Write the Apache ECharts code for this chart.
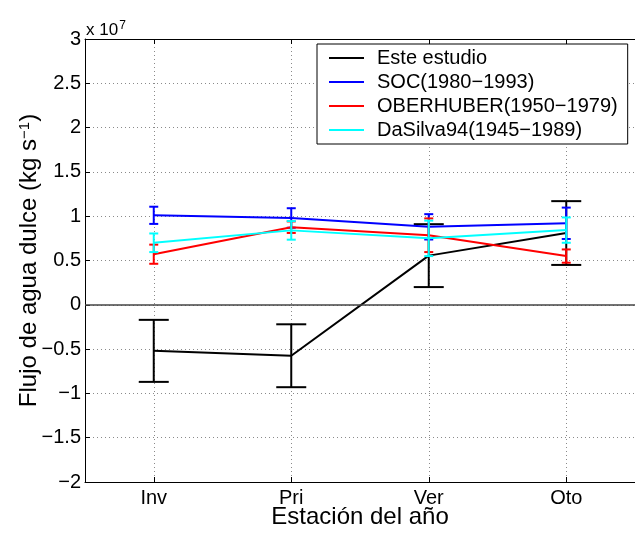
<!DOCTYPE html>
<html>
<head>
<meta charset="utf-8">
<script src="https://cdn.jsdelivr.net/npm/echarts@6/dist/echarts.min.js"></script>
<style>
  html, body { margin: 0; padding: 0; background: #fff; }
  #chart { width: 635px; height: 534px; }
</style>
</head>
<body>
<div id="chart"></div>
<script>
// Seasons on the x axis
const categories = ['Inv', 'Pri', 'Ver', 'Oto'];

// Freshwater flux, units of 1e7 kg/s: seasonal means and error half-widths
const esteMean = [-0.52, -0.575, 0.555, 0.81];
const esteErr = [0.35, 0.355, 0.355, 0.36];
const socMean = [1.01, 0.98, 0.88, 0.92];
const socErr = [0.097, 0.11, 0.143, 0.177];
const oberMean = [0.571, 0.876, 0.785, 0.55];
const oberErr = [0.108, 0.065, 0.19, 0.075];
const daSilvaMean = [0.70, 0.84, 0.75, 0.843];
const daSilvaErr = [0.105, 0.105, 0.2, 0.143];

// Y tick labels
const yTicks = [-2, -1.5, -1, -0.5, 0, 0.5, 1, 1.5, 2, 2.5, 3];

const FONT = '"Liberation Sans", Arial, Helvetica, sans-serif';
const catPos = categories.map((c, i) => i + 1);

function points(mean) {
  return mean.map((v, i) => [catPos[i], v]);
}
function bars(mean, err) {
  return mean.map((v, i) => [catPos[i], v - err[i], v + err[i]]);
}

function errorBars(color, capHalf) {
  return function (params, api) {
    const x = api.value(0);
    const lo = api.coord([x, api.value(1)]);
    const hi = api.coord([x, api.value(2)]);
    const st = { stroke: color, lineWidth: 2 };
    return {
      type: 'group',
      children: [
        { type: 'line', shape: { x1: lo[0], y1: lo[1], x2: hi[0], y2: hi[1] }, style: st },
        { type: 'line', shape: { x1: lo[0] - capHalf, y1: lo[1], x2: lo[0] + capHalf, y2: lo[1] }, style: st },
        { type: 'line', shape: { x1: hi[0] - capHalf, y1: hi[1], x2: hi[0] + capHalf, y2: hi[1] }, style: st }
      ]
    };
  };
}

const groups = [
  { name: 'Este estudio', color: '#000000', mean: esteMean, err: esteErr, cap: 15 },
  { name: 'SOC(1980\u22121993)', color: '#0000ff', mean: socMean, err: socErr, cap: 4.5 },
  { name: 'OBERHUBER(1950\u22121979)', color: '#ff0000', mean: oberMean, err: oberErr, cap: 4.5 },
  { name: 'DaSilva94(1945\u22121989)', color: '#00ffff', mean: daSilvaMean, err: daSilvaErr, cap: 4.5 }
];

const series = [];
groups.forEach((g, k) => {
  const line = {
    name: g.name,
    type: 'line',
    data: points(g.mean),
    symbol: 'none',
    color: g.color,
    lineStyle: { color: g.color, width: 2 },
    animation: false,
    z: 3 + k
  };
  if (k === 0) {
    line.markLine = {
      silent: true,
      symbol: 'none',
      label: { show: false },
      lineStyle: { color: '#444', width: 1.5, type: 'solid' },
      data: [{ yAxis: 0 }]
    };
  }
  series.push(line);
  series.push({
    name: g.name + ' error',
    type: 'custom',
    data: bars(g.mean, g.err),
    renderItem: errorBars(g.color, g.cap),
    animation: false,
    z: 3 + k
  });
});

const gridDots = { show: true, lineStyle: { color: '#8a8a8a', width: 1, type: [1, 3] } };

const chart = echarts.init(document.getElementById('chart'), null, { renderer: 'canvas' });
chart.setOption({
  backgroundColor: '#ffffff',
  animation: false,
  textStyle: { fontFamily: FONT },
  grid: { left: 85, top: 39, width: 560, height: 448, containLabel: false },
  xAxis: [
    {
      type: 'value',
      min: 0.5,
      max: 4.5,
      position: 'bottom',
      name: 'Estaci\u00f3n del a\u00f1o',
      nameLocation: 'middle',
      nameGap: 23,
      nameMoveOverlap: false,
      nameTextStyle: { fontSize: 24, color: '#000', fontFamily: FONT, lineHeight: 24 },
      axisLine: { show: true, onZero: false, lineStyle: { color: '#000', width: 1 } },
      axisTick: { show: true, inside: true, length: 5, customValues: catPos, lineStyle: { color: '#000' } },
      axisLabel: {
        show: true,
        customValues: catPos,
        margin: 6,
        fontSize: 20,
        color: '#000',
        fontFamily: FONT,
        formatter: v => categories[Math.round(v) - 1]
      },
      splitLine: gridDots
    },
    {
      type: 'value',
      min: 0.5,
      max: 4.5,
      position: 'top',
      axisLine: { show: true, onZero: false, lineStyle: { color: '#000', width: 1 } },
      axisTick: { show: true, inside: true, length: 5, customValues: catPos, lineStyle: { color: '#000' } },
      axisLabel: { show: false },
      splitLine: { show: false }
    }
  ],
  yAxis: {
    type: 'value',
    min: yTicks[0],
    max: yTicks[yTicks.length - 1],
    interval: 0.5,
    name: 'Flujo de agua dulce (kg s{sup|\u22121})',
    nameLocation: 'middle',
    nameRotate: 90,
    nameGap: 44,
    nameMoveOverlap: false,
    nameTextStyle: {
      fontSize: 24,
      color: '#000',
      fontFamily: FONT,
      lineHeight: 24,
      rich: { sup: { fontSize: 15, color: '#000', fontFamily: FONT, verticalAlign: 'top', lineHeight: 15, padding: [0, 0, 8, 0] } }
    },
    axisLine: { show: true, onZero: false, lineStyle: { color: '#000', width: 1 } },
    axisTick: { show: true, inside: true, length: 5, lineStyle: { color: '#000' } },
    axisLabel: {
      fontSize: 20,
      color: '#000',
      fontFamily: FONT,
      margin: 4,
      showMinLabel: true,
      showMaxLabel: true,
      formatter: v => (v < 0 ? '\u2212' + Math.abs(v) : String(v))
    },
    splitLine: gridDots
  },
  legend: {
    data: groups.map(g => g.name),
    orient: 'vertical',
    left: 317,
    top: 44,
    padding: [4, 10, 4, 12],
    itemGap: 4,
    itemWidth: 35,
    itemHeight: 2,
    icon: 'rect',
    backgroundColor: '#ffffff',
    borderColor: '#000000',
    borderWidth: 1,
    borderRadius: 0,
    z: 10,
    selectedMode: false,
    textStyle: { fontSize: 20, lineHeight: 20, color: '#000', fontFamily: FONT, padding: [0, 0, 0, 8] }
  },
  graphic: [
    {
      type: 'text',
      left: 86,
      top: 20,
      style: {
        text: 'x 10{s|7}',
        fill: '#000',
        font: '17px ' + FONT,
        rich: { s: { fontSize: 12, fill: '#000', fontFamily: FONT, verticalAlign: 'top', padding: [0, 0, 8, 1] } }
      }
    }
  ],
  series: series
});
</script>
</body>
</html>
